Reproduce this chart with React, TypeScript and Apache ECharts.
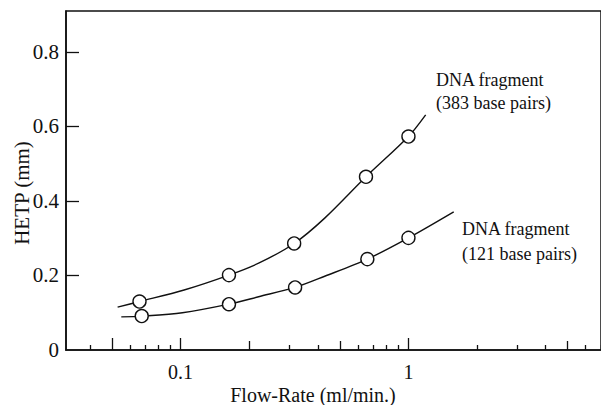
import * as echarts from "echarts";
import { useEffect, useRef } from "react";

const INK = "#111111";
const FONT = "Liberation Serif";

// Measured points (open circles), flow rate in ml/min vs HETP in mm.
const flow383 = [0.066, 0.163, 0.315, 0.651, 1.0];
const hetp383 = [0.13, 0.201, 0.286, 0.465, 0.573];
const flow121 = [0.0675, 0.163, 0.318, 0.66, 1.0];
const hetp121 = [0.091, 0.123, 0.168, 0.244, 0.301];

// Hand-drawn trend curves.
const curveFlow383 = [0.0529, 0.066, 0.1036, 0.163, 0.22, 0.315, 0.429, 0.651, 1.0, 1.19];
const curveHetp383 = [0.115, 0.13, 0.161, 0.201, 0.233, 0.286, 0.354, 0.465, 0.573, 0.631];
const curveFlow121 = [0.0549, 0.0675, 0.1018, 0.163, 0.22, 0.318, 0.429, 0.66, 1.0, 1.58];
const curveHetp121 = [0.089, 0.091, 0.1, 0.123, 0.143, 0.168, 0.198, 0.244, 0.301, 0.371];

// Log axis ticks in three lengths, plus the two labelled decades.
const minorTicks = [0.04, 0.06, 0.07, 0.08, 0.09, 0.3, 0.4, 0.6, 0.7, 0.8, 0.9, 2, 3, 4, 6, 7];
const mediumTicks = [0.2, 0.5, 5];
const majorTicks = [0.05, 0.1, 1];
const xLabels = [0.1, 1];
const yTicks = [0.2, 0.4, 0.6, 0.8];
const yLabels = [0, 0.2, 0.4, 0.6, 0.8];

const X_MIN = 0.0314;
const X_MAX = 7.0;

const zip = (xs: number[], ys: number[]) => xs.map((x, i) => [x, ys[i]]);

function logAxis(ticks: number[], length: number, withLine: boolean, labels?: number[]) {
  return {
    type: "log",
    position: "bottom",
    min: X_MIN,
    max: X_MAX,
    axisLine: { show: withLine, onZero: false, lineStyle: { color: INK, width: 1.6 } },
    axisTick: { show: true, inside: true, length, customValues: ticks, lineStyle: { color: INK, width: 1.3 } },
    axisLabel: labels
      ? {
          show: true,
          customValues: labels,
          formatter: (v: number) => String(v),
          color: INK,
          fontFamily: FONT,
          fontSize: 20,
          margin: 12,
        }
      : { show: false },
    splitLine: { show: false },
  };
}

function label(text: string, x: number, y: number, size: number) {
  return {
    type: "text",
    x,
    y,
    style: { text, fill: INK, font: `${size}px ${FONT}`, textVerticalAlign: "middle" },
  };
}

export default function App() {
  const ref = useRef<HTMLDivElement>(null);

  useEffect(() => {
    const el = ref.current;
    if (!el) return;
    const chart = echarts.init(el, null, { renderer: "svg" });
    chart.setOption({
      animation: false,
      backgroundColor: "#ffffff",
      textStyle: { fontFamily: FONT },
      grid: {
        left: 66,
        top: 11,
        bottom: 55,
        right: -4,
        show: true,
        borderColor: INK,
        borderWidth: 1.5,
        backgroundColor: "transparent",
      },
      xAxis: [
        logAxis(minorTicks, 5, true, xLabels),
        logAxis(mediumTicks, 9, false),
        logAxis(majorTicks, 12, false),
      ],
      yAxis: {
        type: "value",
        min: 0,
        max: 0.91,
        axisLine: { show: true, onZero: false, lineStyle: { color: INK, width: 1.6 } },
        axisTick: { show: true, inside: true, length: 13, customValues: yTicks, lineStyle: { color: INK, width: 1.3 } },
        axisLabel: {
          customValues: yLabels,
          formatter: (v: number) => (v === 0 ? "0" : v.toFixed(1)),
          color: INK,
          fontFamily: FONT,
          fontSize: 21,
          margin: 7,
        },
        splitLine: { show: false },
      },
      graphic: [
        label("DNA fragment", 436, 80, 18),
        label("(383 base pairs)", 436, 103, 18),
        label("DNA fragment", 462, 229, 18),
        label("(121 base pairs)", 462, 254, 18),
        {
          type: "text",
          x: 22,
          y: 193,
          rotation: Math.PI / 2,
          style: {
            text: "HETP (mm)",
            fill: INK,
            font: `21px ${FONT}`,
            textAlign: "center",
            textVerticalAlign: "middle",
          },
        },
        {
          type: "text",
          x: 313,
          y: 395,
          style: {
            text: "Flow-Rate (ml/min.)",
            fill: INK,
            font: `20px ${FONT}`,
            textAlign: "center",
            textVerticalAlign: "middle",
          },
        },
      ],
      series: [
        {
          type: "line",
          data: zip(curveFlow383, curveHetp383),
          smooth: 0.3,
          showSymbol: false,
          lineStyle: { color: INK, width: 1.4 },
          silent: true,
        },
        {
          type: "line",
          data: zip(curveFlow121, curveHetp121),
          smooth: 0.3,
          showSymbol: false,
          lineStyle: { color: INK, width: 1.4 },
          silent: true,
        },
        {
          type: "scatter",
          data: zip(flow383, hetp383),
          symbol: "circle",
          symbolSize: 13,
          z: 5,
          itemStyle: { color: "#ffffff", borderColor: INK, borderWidth: 1.4, opacity: 1 },
        },
        {
          type: "scatter",
          data: zip(flow121, hetp121),
          symbol: "circle",
          symbolSize: 13,
          z: 5,
          itemStyle: { color: "#ffffff", borderColor: INK, borderWidth: 1.4, opacity: 1 },
        },
      ],
    });
    return () => chart.dispose();
  }, []);

  return (
    <div
      ref={ref}
      style={{ position: "fixed", left: 0, top: 0, width: 601, height: 405, background: "#ffffff" }}
    />
  );
}
